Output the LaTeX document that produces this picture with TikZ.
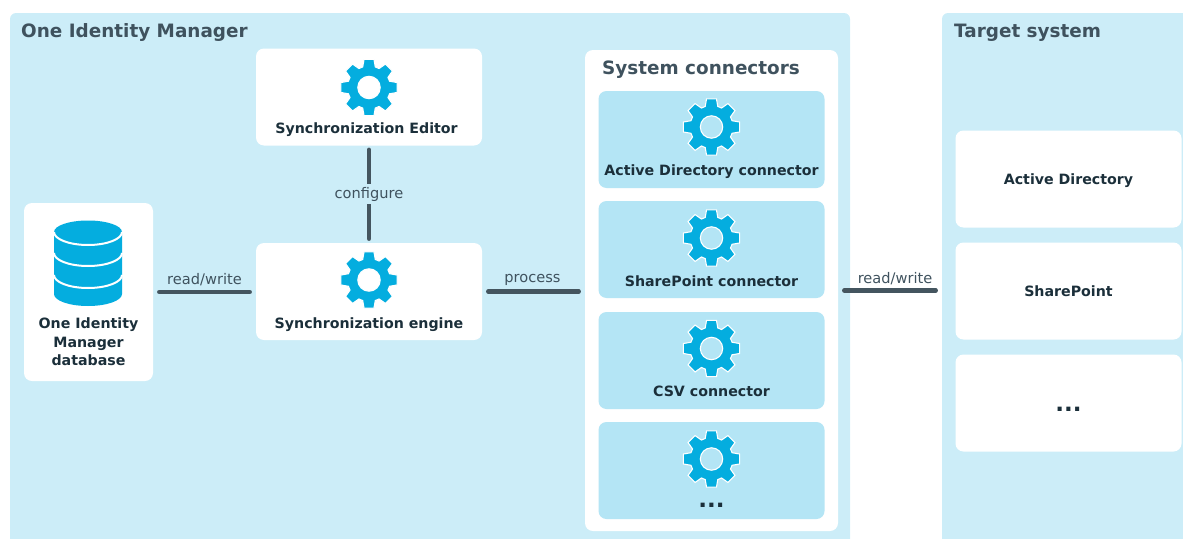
\documentclass[tikz,border=0pt]{standalone}
\usepackage{fontspec}
\setmainfont{DejaVu Sans}
\definecolor{panelblue}{HTML}{CCEDF8}
\definecolor{connblue}{HTML}{B4E5F5}
\definecolor{iconblue}{HTML}{04ADDF}
\definecolor{titlegray}{HTML}{3F525E}
\definecolor{darktext}{HTML}{1B2F3A}
\definecolor{linegray}{HTML}{44555F}
\begin{document}
\begin{tikzpicture}[x=1pt,y=-1pt]
    % Stili
    \tikzset{
        panel/.style={rectangle, fill=panelblue, rounded corners=6pt, inner sep=0pt},
        whitebox/.style={rectangle, fill=white, rounded corners=8pt, minimum width=226pt, minimum height=97pt, inner sep=0pt},
        connbox/.style={whitebox, fill=connblue},
        boxtext/.style={text=darktext, inner sep=0pt, anchor=base, align=center, font=\fontsize{14.2}{18.5}\selectfont\bfseries},
        dbtext/.style={boxtext, anchor=center},
        dots/.style={text=darktext, inner sep=0pt, font=\fontsize{23}{23}\selectfont\bfseries},
        title/.style={text=titlegray, inner sep=0pt, anchor=base west, font=\fontsize{18.4}{22}\selectfont\bfseries},
        wire/.style={line width=4.3pt, draw=linegray, line cap=round, shorten >=6pt, shorten <=6pt},
        wirev/.style={wire, shorten >=4pt, shorten <=4pt},
        wirelabel/.style={text=titlegray, inner sep=0pt, font=\fontsize{14.6}{17}\selectfont},
        gear/.pic={
            \path[fill=iconblue, draw=white, line width=1.1pt, even odd rule]
                (-17:21.5) \foreach \a in {0,45,...,315} {
                    -- ({\a-17}:21.5) -- ({\a-10}:28.6) -- ({\a+10}:28.6) -- ({\a+17}:21.5)
                } -- cycle
                (0,0) circle (11.2);
        },
        dbicon/.pic={
            \fill[iconblue] (-34,12) -- (-34,74) arc[start angle=180, end angle=360, x radius=34pt, y radius=12pt] -- (34,12) -- cycle;
            \fill[iconblue] (0,12) circle[x radius=34pt, y radius=11.5pt];
            \foreach \ya in {12,33,55}
                \draw[white, line width=2pt] (-34,\ya) arc[start angle=180, end angle=360, x radius=34pt, y radius=13pt];
        }
    }
    \clip (0,0) rectangle (1183,538);

    % Sfondi
    \node[panel, minimum width=840pt, minimum height=600pt] (oim) at (430,313) {};
    \node[panel, minimum width=300pt, minimum height=600pt] (target) at (1092,313) {};
    \node[title] (oimtitle) at (21,37.5) {One Identity Manager};
    \node[title] (targettitle) at (954,37) {Target system};

    % Database
    \node[whitebox, minimum width=129pt, minimum height=178pt] (db) at (88.5,292) {};
    \pic at (88,220) {dbicon};
    \node[dbtext] (dbnote) at (88.5,342) {One Identity\\Manager\\database};

    % Sincronizzazione
    \node[whitebox] (editor) at (369,97) {};
    \pic at (369,87.5) {gear};
    \node[boxtext] (editornote) at (366.5,133.5) {Synchronization Editor};
    \node[whitebox] (engine) at (369,291.5) {};
    \pic at (369,280) {gear};
    \node[boxtext] (enginenote) at (369,328) {Synchronization engine};

    % Connettori
    \node[whitebox, minimum width=253pt, minimum height=481pt] (sys) at (711.5,290.5) {};
    \node[title] (systitle) at (602,74.5) {System connectors};
    \node[connbox] (adconn) at (711.5,139.5) {};
    \pic at (711.5,127) {gear};
    \node[boxtext] (adnote) at (711.5,175) {Active Directory connector};
    \node[connbox] (spconn) at (711.5,249.5) {};
    \pic at (711.5,238) {gear};
    \node[boxtext] (spnote) at (711.5,286) {SharePoint connector};
    \node[connbox] (csvconn) at (711.5,360.5) {};
    \pic at (711.5,348.5) {gear};
    \node[boxtext] (csvnote) at (711.5,396.5) {CSV connector};
    \node[connbox] (moreconn) at (711.5,470.5) {};
    \pic at (711.5,459) {gear};
    \node[dots] (morenote) at (711.5,505) {...};

    % Sistemi di destinazione
    \node[whitebox] (adbox) at (1068.5,179) {};
    \node[boxtext] (adboxnote) at (1068.5,184.5) {Active Directory};
    \node[whitebox] (spbox) at (1068.5,291) {};
    \node[boxtext] (spboxnote) at (1068.5,296) {SharePoint};
    \node[whitebox] (otherbox) at (1068.5,403) {};
    \node[dots] (othernote) at (1068.5,409) {...};

    % Linee
    \draw[wire] (db.east) -- node[wirelabel, above=3.5pt] (rwlabel) {read/write} (db.east -| engine.west);
    \draw[wire] (engine.east) -- node[wirelabel, above=3.5pt, xshift=-1pt] (proclabel) {process} (engine.east -| sys.west);
    \draw[wire] (sys.east) -- node[wirelabel, above=3.5pt, xshift=5pt] (rwlabeltwo) {read/write} (sys.east -| target.west);
    \draw[wirev] (editor.south) -- node[wirelabel, fill=panelblue, minimum height=20pt] (conflabel) {configure} (engine.north);
\end{tikzpicture}
\end{document}
